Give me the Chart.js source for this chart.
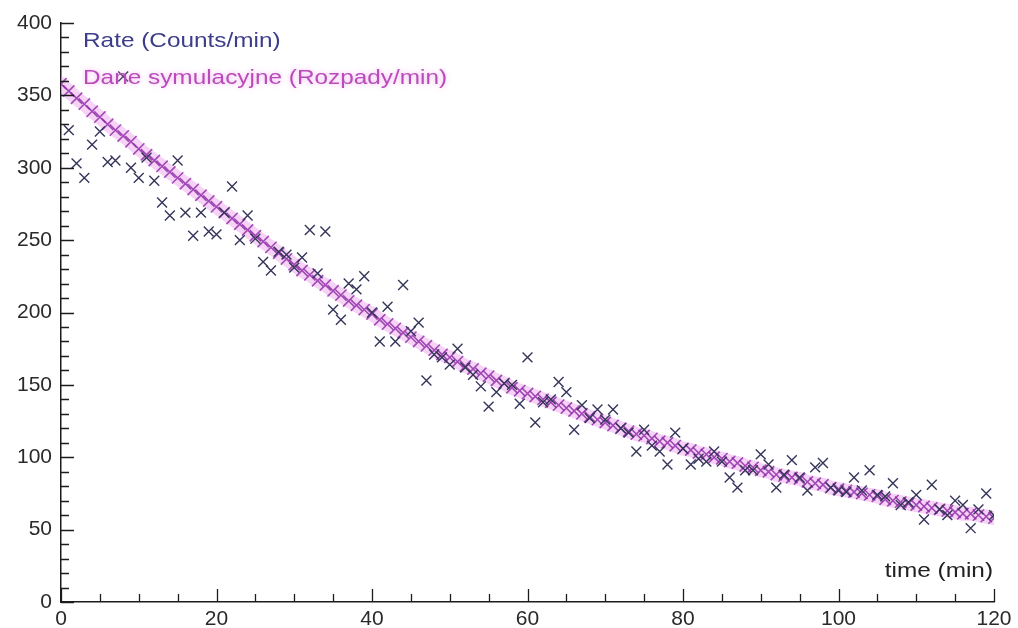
<!DOCTYPE html>
<html>
<head>
<meta charset="utf-8">
<script src="https://cdn.jsdelivr.net/npm/chart.js@4"></script>
<style>
  html, body { margin: 0; padding: 0; background: #fff; }
  #wrap { width: 1018px; height: 628px; }
</style>
</head>
<body>
<div id="wrap"><canvas id="decayChart" width="1018" height="628"></canvas></div>
<script>
// czas pomiaru (min)
const minutes = [0,1,2,3,4,5,6,7,8,9,10,11,12,13,14,15,16,17,18,19,20,21,22,23,24,25,26,27,28,29,30,
  31,32,33,34,35,36,37,38,39,40,41,42,43,44,45,46,47,48,49,50,51,52,53,54,55,56,57,58,59,60,
  61,62,63,64,65,66,67,68,69,70,71,72,73,74,75,76,77,78,79,80,81,82,83,84,85,86,87,88,89,90,
  91,92,93,94,95,96,97,98,99,100,101,102,103,104,105,106,107,108,109,110,111,112,113,114,115,116,117,118,119,120];

// Rate (Counts/min) - odczyt z wykresu
const rateCounts = [null,326,303,293,316,325,304,305,363,300,293,307,291,276,267,305,269,253,269,256,254,
  269,287,250,267,251,235,229,242,240,231,238,257,227,256,202,195,220,216,225,200,
  180,204,180,219,187,193,153,171,169,164,175,162,157,149,135,145,151,150,137,169,
  124,138,140,152,145,119,136,127,133,126,133,120,117,104,119,108,104,95,117,106,
  95,99,97,104,97,86,79,91,91,102,95,79,88,98,86,77,93,96,79,77,
  76,86,77,91,74,73,82,67,69,74,57,81,64,60,70,67,51,64,75,60];

// Dane symulacyjne (Rozpady/min)
const simDecays = [358,353,348,344,339,335,330,326,322,318,313,309,305,301,297,293,289,285,281,277,273,
  269,265,261,257,253,249,245,241,237,233,229,226,222,219,215,212,208,205,202,199,
  195,192,189,186,183,180,177,174,171,169,166,163,161,158,156,153,151,148,146,144,
  142,140,138,136,134,132,130,128,126,124,122,120,118,116,115,113,111,110,108,106,
  105,103,102,100,99,97,96,94,93,91,90,88,87,86,85,83,82,81,79,78,
  77,76,75,74,73,71,70,69,68,67,66,65,64,63,62,61,61,60,59,58];

const seriesLabels = ['Rate (Counts/min)', 'Dane symulacyjne (Rozpady/min)'];
const axisTitle = 'time (min)';

const RATE_COLOR = '#35355a';
const SIM_COLOR = 'rgba(140, 40, 165, 0.8)';
const TEXT_SX = 1.16; // tekst w oryginale jest lekko rozciągnięty w poziomie

function toPoints(ys) {
  return minutes.map((t, i) => ({ x: t, y: ys[i] })).filter(p => p.y !== null);
}

function stretchedText(ctx, text, x, y, color, align, glow) {
  ctx.save();
  ctx.font = '21px "Liberation Sans", Arial, sans-serif';
  ctx.textBaseline = 'middle';
  ctx.textAlign = align;
  ctx.fillStyle = color;
  if (glow) {
    ctx.shadowColor = 'rgba(235, 140, 235, 0.7)';
    ctx.shadowBlur = 5;
  }
  ctx.translate(x, y);
  ctx.scale(TEXT_SX, 1);
  ctx.fillText(text, 0, 0);
  ctx.restore();
}

// ticki skierowane do środka + legenda i opis osi w obszarze wykresu
const insideDecor = {
  id: 'insideDecor',
  afterDraw(chart) {
    const { ctx, chartArea, scales } = chart;
    const xs = scales.x, ys = scales.y;
    ctx.save();
    ctx.strokeStyle = '#1c1c1c';
    ctx.lineWidth = 1.3;
    ctx.beginPath();
    for (let v = 0; v <= 120; v += 5) {
      const px = Math.round(xs.getPixelForValue(v)) + 0.5;
      const len = v % 20 === 0 ? 13 : 8;
      ctx.moveTo(px, chartArea.bottom);
      ctx.lineTo(px, chartArea.bottom - len);
    }
    for (let v = 0; v <= 400; v += 10) {
      const py = Math.round(ys.getPixelForValue(v)) + 0.5;
      const len = v % 50 === 0 ? 13 : 8;
      ctx.moveTo(chartArea.left, py);
      ctx.lineTo(chartArea.left + len, py);
    }
    ctx.stroke();
    ctx.restore();

    const ds = chart.data.datasets;
    stretchedText(ctx, ds[0].label, chartArea.left + 22, 41, '#3d3d8a', 'left', false);
    stretchedText(ctx, ds[1].label, chartArea.left + 22, 78, '#b84cb8', 'left', true);
    stretchedText(ctx, axisTitle, chartArea.right - 1, 571, '#222', 'right', false);
  }
};

Chart.defaults.font.family = '"Liberation Sans", Arial, sans-serif';

new Chart(document.getElementById('decayChart'), {
  type: 'scatter',
  data: {
    datasets: [
      {
        label: seriesLabels[0],
        data: toPoints(rateCounts),
        pointStyle: 'crossRot',
        pointRadius: 7,
        pointBorderWidth: 1.4,
        pointBorderColor: RATE_COLOR,
        showLine: false
      },
      {
        label: seriesLabels[1],
        data: toPoints(simDecays),
        pointStyle: 'crossRot',
        pointRadius: 8,
        pointBorderWidth: 1.6,
        pointBorderColor: SIM_COLOR,
        showLine: true,
        borderColor: 'rgba(238, 165, 238, 0.5)',
        borderWidth: 14,
        borderCapStyle: 'round'
      }
    ]
  },
  options: {
    responsive: false,
    devicePixelRatio: 1,
    animation: false,
    layout: { padding: { left: 0, top: 23, right: 24, bottom: 0 } },
    plugins: {
      legend: { display: false },
      tooltip: { enabled: false }
    },
    scales: {
      x: {
        type: 'linear',
        min: 0,
        max: 120,
        grid: { display: false, drawTicks: false, tickLength: 0 },
        border: { display: true, color: '#1c1c1c', width: 1.5 },
        ticks: { stepSize: 20, color: '#2a2a2a', padding: 5, font: { size: 21 } },
        afterFit: s => { s.height = 26; }
      },
      y: {
        min: 0,
        max: 400,
        grid: { display: false, drawTicks: false, tickLength: 0 },
        border: { display: true, color: '#1c1c1c', width: 1.5 },
        ticks: { stepSize: 50, color: '#2a2a2a', padding: 9, font: { size: 21 } },
        afterFit: s => { s.width = 61; }
      }
    }
  },
  plugins: [insideDecor]
});
</script>
</body>
</html>
